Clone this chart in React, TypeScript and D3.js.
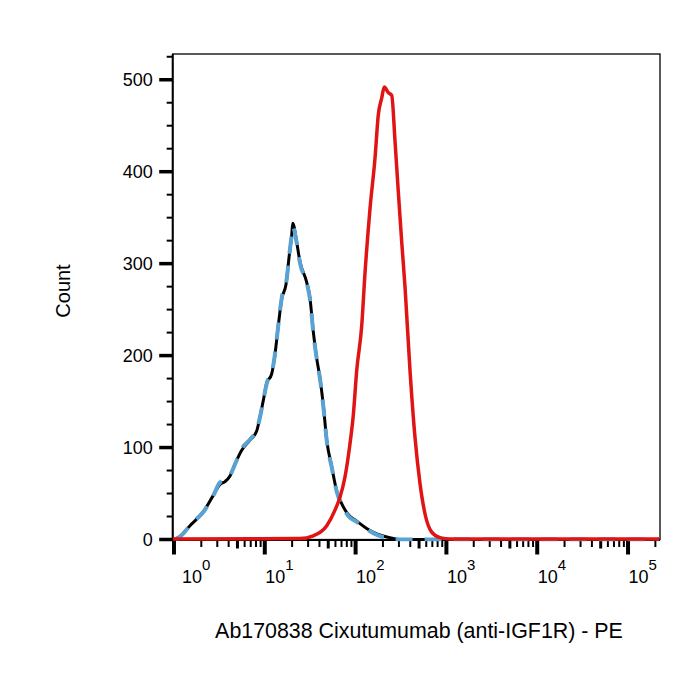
import * as d3 from "d3";

// unstained control (black, solid)
const blankValue = [1.0, 1.11, 1.5, 2.1, 2.71, 3.21, 3.65, 4.14, 4.7, 5.57, 6.87, 8.14, 8.85, 9.62, 10.5, 11.9, 12.9, 14.1, 15.4, 17.1, 18.6, 19.8, 20.3, 22.4, 24.4, 28.9, 31.5, 34.2, 37.3, 40.6, 44.1, 48.1, 54.6, 61.9, 70.3, 83.2, 102.9, 132.5, 170.8, 239, 308, 220000];
const blankCount = [0, 2, 15, 30, 48, 60, 63, 69, 82, 97, 108, 118, 133, 151, 170, 180, 200, 233, 262, 277, 309, 331, 344, 324, 302, 280, 262, 226, 197, 175, 146, 108, 79, 53, 39, 27, 20, 12, 6, 2, 0, 0];

// isotype control (blue, dashed)
const isotypeValue = [1.05, 1.2, 1.55, 2.15, 2.75, 3.2, 3.7, 4.2, 4.8, 5.6, 6.9, 8.1, 8.9, 9.7, 10.6, 12.0, 13.0, 14.2, 15.5, 17.2, 18.7, 19.9, 20.4, 22.5, 24.5, 29.0, 31.6, 34.3, 37.5, 40.8, 44.3, 48.3, 55, 62, 71, 84, 104, 134, 172, 240, 310, 220000];
const isotypeCount = [0, 4, 17, 31, 49, 62, 65, 71, 84, 99, 109, 119, 134, 153, 171, 182, 203, 236, 265, 279, 311, 333, 340, 322, 300, 279, 260, 224, 195, 173, 143, 106, 77, 52, 37, 25, 19, 11, 5, 1, 0, 0];

// Ab170838 stained (red)
const stainedValue = [0.97, 24.4, 34.2, 48.1, 59.3, 67.3, 76.4, 86.7, 94.3, 102.9, 116.7, 127, 144.2, 163.7, 177.9, 193.8, 207, 229.1, 249.8, 271.8, 295.3, 321.8, 349.9, 397.2, 451, 511.9, 580.8, 688.5, 850.5, 1096, 220000];
const stainedCount = [0.5, 1, 4, 15, 32, 46, 68, 104, 135, 184, 232, 290, 360, 415, 462, 480, 492, 486, 483, 433, 378, 324, 275, 184, 111, 61, 28, 8, 2, 0.5, 0.5];

const yTicks = [0, 100, 200, 300, 400, 500];
const decades = [0, 1, 2, 3, 4, 5];
const xTitle = "Ab170838 Cixutumumab (anti-IGF1R) - PE";
const yTitle = "Count";

const FONT = "Arial, 'Liberation Sans', Helvetica, sans-serif";

export default function App() {
  const width = 700;
  const height = 700;
  const left = 172.7;
  const right = 660;
  const top = 54;
  const bottom = 539.5;

  const x = d3
    .scaleLog()
    .domain([Math.pow(10, -0.014), Math.pow(10, 5.352)])
    .range([left, right]);
  const y = d3.scaleLinear().domain([0, 528]).range([bottom, top]);

  const line = d3
    .line<[number, number]>()
    .x(d => x(d[0]))
    .y(d => y(d[1]))
    .curve(d3.curveMonotoneX);

  const zip = (a: number[], b: number[]) =>
    a.map((v, i) => [v, b[i]] as [number, number]);

  const minorY = d3.range(0, 526, 25).filter(v => v % 100 !== 0);
  const minorX: number[] = [];
  decades.slice(0, -1).forEach(p => {
    for (let k = 2; k <= 9; k++) minorX.push(k * Math.pow(10, p));
  });
  minorX.push(2e5);

  return (
    <svg
      width={width}
      height={height}
      style={{ position: "absolute", left: 0, top: 0, background: "white" }}
      fontFamily={FONT}
    >
      <defs>
        <clipPath id="plot">
          <rect x={left} y={top} width={right - left} height={bottom - top + 2} />
        </clipPath>
      </defs>
      <rect x={0} y={0} width={width} height={height} fill="white" />

      {/* frame */}
      <rect
        x={left}
        y={top}
        width={right - left}
        height={bottom - top}
        fill="none"
        stroke="black"
        strokeWidth={1.3}
      />
      <line x1={left} x2={left} y1={top} y2={bottom + 1} stroke="black" strokeWidth={2} />
      <line x1={left} x2={right} y1={bottom + 0.5} y2={bottom + 0.5} stroke="black" strokeWidth={2} />

      {/* y axis */}
      {yTicks.map(t => (
        <g key={"y" + t}>
          <line x1={left - 13.5} x2={left} y1={y(t)} y2={y(t)} stroke="black" strokeWidth={3.5} />
          <text
            x={left - 20}
            y={y(t)}
            textAnchor="end"
            dominantBaseline="central"
            fontSize={18}
            fill="black"
          >
            {t}
          </text>
        </g>
      ))}
      {minorY.map(t => (
        <line key={"my" + t} x1={left - 6} x2={left} y1={y(t)} y2={y(t)} stroke="black" strokeWidth={2} />
      ))}

      {/* x axis */}
      {decades.map(p => {
        const xv = x(Math.pow(10, p));
        return (
          <g key={"x" + p}>
            <line x1={xv} x2={xv} y1={bottom} y2={bottom + 15} stroke="black" strokeWidth={4} />
            <text x={xv + (p === 0 ? 8 : 0.5)} y={583} fontSize={18} fill="black">
              10
              <tspan dy={-13} fontSize={15}>
                {p}
              </tspan>
            </text>
          </g>
        );
      })}
      {minorX.map(v => {
        const xv = x(v);
        const five = String(v).startsWith("5");
        return (
          <line
            key={"mx" + v}
            x1={xv}
            x2={xv}
            y1={bottom}
            y2={bottom + (five ? 9 : 7.5)}
            stroke="black"
            strokeWidth={five ? 3 : 2}
          />
        );
      })}

      {/* histograms */}
      <g clipPath="url(#plot)" fill="none" strokeLinejoin="round">
        <path d={line(zip(blankValue, blankCount)) ?? undefined} stroke="black" strokeWidth={3} />
        <path
          d={line(zip(isotypeValue, isotypeCount)) ?? undefined}
          stroke="#5aa2d2"
          strokeWidth={4}
          strokeDasharray="17,12"
        />
        <path d={line(zip(stainedValue, stainedCount)) ?? undefined} stroke="#e01414" strokeWidth={3.5} />
      </g>

      {/* titles */}
      <text x={419} y={638} textAnchor="middle" fontSize={21.4} fill="black">
        {xTitle}
      </text>
      <text
        transform={`translate(70, 291) rotate(-90)`}
        textAnchor="middle"
        fontSize={20}
        fill="black"
      >
        {yTitle}
      </text>
    </svg>
  );
}
